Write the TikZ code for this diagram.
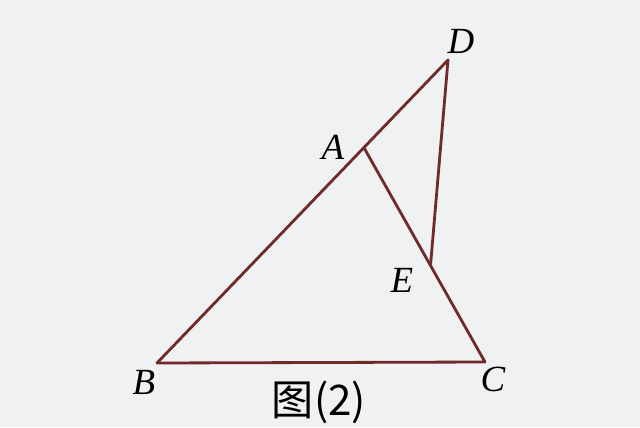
\documentclass[tikz,border=0pt]{standalone}
\usepackage{fontspec}
\setmainfont{Liberation Serif}
\newfontfamily\cjk{Noto Sans CJK SC}
\usetikzlibrary{calc}
\definecolor{edgebrown}{RGB}{112,42,42}
\definecolor{paper}{RGB}{240,241,243}
\tikzset{
    side/.style={draw=edgebrown,line width=1.6pt,line cap=round,line join=round},
    lbl/.style={font=\fontsize{21}{21}\selectfont\itshape,inner sep=0pt}
}
\begin{document}
\begin{tikzpicture}
            \fill[paper] (0,0) rectangle (12.8,8.54);
            \useasboundingbox (0,0) rectangle (12.8,8.54);

            \coordinate (B) at (3.14,1.28);
            \coordinate (C) at (9.70,1.30);
            \coordinate (D) at (8.96,7.34);
            \coordinate (A) at ($(B)!0.711!(D)$);
            \coordinate (E) at ($(A)!0.55!(C)$);

            \draw[side] (B) -- (D) -- (E);
            \draw[side] (A) -- (C) -- (B);

            \node[lbl] (lD) at (9.22,7.72) {D};
            \node[lbl] (lA) at (6.66,5.60) {A};
            \node[lbl] (lE) at (8.04,2.94) {E};
            \node[lbl] (lB) at (2.88,0.90) {B};
            \node[lbl] (lC) at (9.86,0.96) {C};

            \node[font=\cjk\fontsize{24}{24}\selectfont,inner sep=0pt] (cap) at (6.38,0.50) {图(2)};
        \end{tikzpicture}
\end{document}
